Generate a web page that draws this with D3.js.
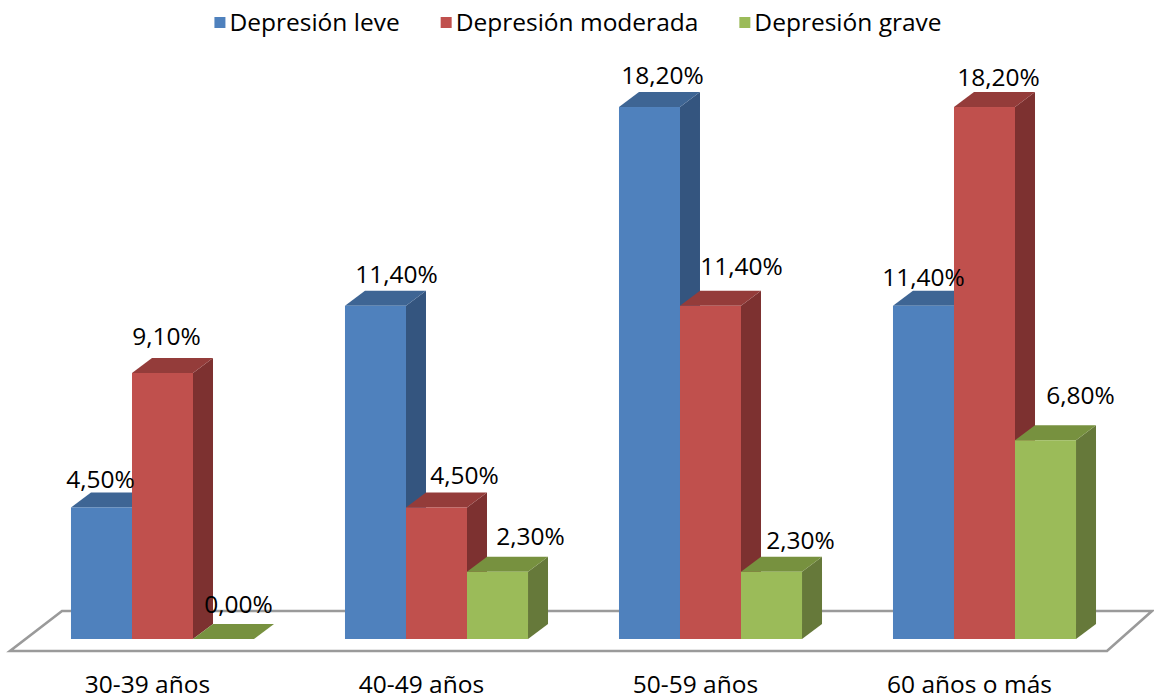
<!DOCTYPE html>
<html>
<head>
<meta charset="utf-8">
<script src="https://cdn.jsdelivr.net/npm/d3@7"></script>
<style>
  html, body { margin: 0; padding: 0; background: #fff; }
  svg { display: block; font-family: "Open Sans", "Noto Sans", sans-serif; }
</style>
</head>
<body>
<svg id="chart" width="1154" height="700"></svg>
<script>
// Grupos de edad y porcentaje de cada nivel de depresión
const categories = ["30-39 años", "40-49 años", "50-59 años", "60 años o más"];
const seriesNames = ["Depresión leve", "Depresión moderada", "Depresión grave"];
const leve = [4.5, 11.4, 18.2, 11.4];
const moderada = [9.1, 4.5, 11.4, 18.2];
const grave = [0.0, 2.3, 2.3, 6.8];

// Colores: cara frontal, cara lateral, cara superior
const faceColors = [
  { front: "#4F81BD", side: "#34557F", top: "#3E6594" },
  { front: "#C0504D", side: "#7D3130", top: "#943C3A" },
  { front: "#9BBB59", side: "#66793A", top: "#77913F" }
];

// Ajuste fino de las etiquetas [dx, dy] por serie y grupo
const labelNudge = [
  [[-11, 5], [11, 2], [3, 1], [-10, 5]],
  [[-6, -4], [18, 1], [21, -6], [4, 3]],
  [[5, -2], [23, -2], [19, 2], [25, -12]]
];

const values = [leve, moderada, grave];
const W = 1154, H = 700;
const base = 639;          // línea base del frente de las columnas
const depthX = 20, depthY = 15; // profundidad 3D
const fontSize = 24.5;
const fmt = v => d3.format(".2f")(v).replace(".", ",") + "%";

const svg = d3.select("#chart");

const x = d3.scaleBand()
  .domain(categories)
  .range([25.5, 1121.5])
  .paddingInner(0.332)
  .paddingOuter(0.166);

const xs = d3.scaleBand()
  .domain(seriesNames)
  .range([0, x.bandwidth()])
  .padding(0);

const y = d3.scaleLinear().domain([0, 20]).range([base, base - 20 * 29.23]);

// Suelo del gráfico (paralelogramo)
const r0 = x.range()[0], r1 = x.range()[1];
const floor = [
  [r0 - 15.5, base + 12],
  [r1 - 14.5, base + 12],
  [r1 + 30.5, base - 28],
  [r0 + 36.5, base - 28]
];
svg.append("path")
  .attr("d", "M" + floor.map(p => p.join(",")).join("L") + "Z")
  .attr("fill", "#fff")
  .attr("stroke", "#9a9a9a")
  .attr("stroke-width", 2.6)
  .attr("stroke-linejoin", "miter");

// Columnas 3D, de izquierda a derecha dentro de cada grupo
const bars = svg.append("g");
categories.forEach((cat, ci) => {
  seriesNames.forEach((s, si) => {
    const v = values[si][ci];
    const x0 = x(cat) + xs(s);
    const w = xs.bandwidth();
    const yt = y(v);
    const g = bars.append("g");
    const c = faceColors[si];
    // cara lateral
    g.append("path")
      .attr("d", `M${x0 + w},${yt}L${x0 + w + depthX},${yt - depthY}L${x0 + w + depthX},${base - depthY}L${x0 + w},${base}Z`)
      .attr("fill", c.side);
    // cara superior
    g.append("path")
      .attr("d", `M${x0},${yt}L${x0 + depthX},${yt - depthY}L${x0 + w + depthX},${yt - depthY}L${x0 + w},${yt}Z`)
      .attr("fill", c.top);
    // cara frontal
    if (v > 0) {
      g.append("rect")
        .attr("x", x0).attr("y", yt)
        .attr("width", w).attr("height", base - yt)
        .attr("fill", c.front);
    }
  });
});

// Etiquetas de datos
const labels = svg.append("g")
  .attr("font-size", fontSize)
  .attr("fill", "#000")
  .attr("text-anchor", "middle");
categories.forEach((cat, ci) => {
  seriesNames.forEach((s, si) => {
    const v = values[si][ci];
    const cx = x(cat) + xs(s) + xs.bandwidth() / 2 + depthX / 2;
    const cy = y(v) - 33;
    const [ndx, ndy] = labelNudge[si][ci];
    labels.append("text")
      .attr("x", cx + ndx)
      .attr("y", cy + ndy)
      .attr("dy", "0.35em")
      .text(fmt(v));
  });
});

// Etiquetas de categoría
const axisLabels = svg.append("g")
  .attr("font-size", fontSize)
  .attr("fill", "#000")
  .attr("text-anchor", "middle");
categories.forEach(cat => {
  axisLabels.append("text")
    .attr("x", x(cat) + x.bandwidth() / 2 - 15)
    .attr("y", 693)
    .text(cat);
});

// Leyenda
const legend = svg.append("g").attr("font-size", fontSize);
let lx = 0;
seriesNames.forEach((s, i) => {
  const it = legend.append("g");
  it.append("rect")
    .attr("x", 0).attr("y", 17)
    .attr("width", 11).attr("height", 11)
    .attr("fill", faceColors[i].front);
  const t = it.append("text")
    .attr("x", 15).attr("y", 31)
    .attr("fill", "#000")
    .text(s);
  const tw = t.node().getComputedTextLength();
  it.attr("transform", `translate(${lx},0)`);
  lx += 15 + tw + 41;
});
const totalW = lx - 41;
legend.attr("transform", `translate(${578 - totalW / 2},0)`);
</script>
</body>
</html>
